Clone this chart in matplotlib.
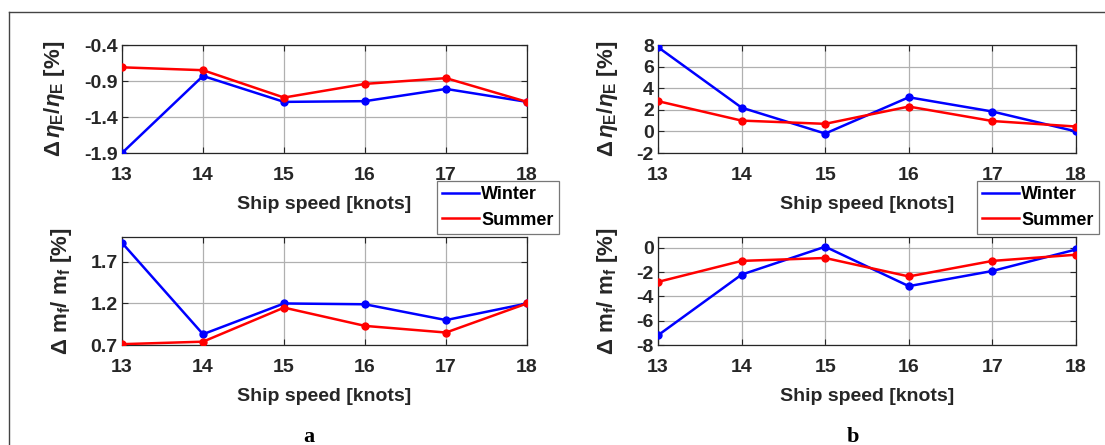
import matplotlib
matplotlib.use("Agg")
import matplotlib.pyplot as plt
from matplotlib.lines import Line2D
import numpy as np

plt.rcParams['font.family'] = 'Liberation Sans'
plt.rcParams['font.weight'] = 'bold'
plt.rcParams['axes.unicode_minus'] = False
plt.rcParams['mathtext.fontset'] = 'custom'
plt.rcParams['mathtext.rm'] = 'Liberation Sans:bold'
plt.rcParams['mathtext.it'] = 'Liberation Sans:italic'
plt.rcParams['mathtext.bf'] = 'Liberation Sans:bold'
plt.rcParams['mathtext.sf'] = 'Liberation Sans'

speed = [13, 14, 15, 16, 17, 18]

# efficiency change, case a
eff_a_winter = [-1.90, -0.83, -1.19, -1.18, -1.01, -1.19]
eff_a_summer = [-0.71, -0.75, -1.13, -0.94, -0.86, -1.19]
# fuel change, case a
fuel_a_winter = [1.93, 0.83, 1.20, 1.19, 1.00, 1.20]
fuel_a_summer = [0.71, 0.74, 1.15, 0.93, 0.85, 1.20]
# efficiency change, case b
eff_b_winter = [7.8, 2.2, -0.2, 3.16, 1.84, 0.0]
eff_b_summer = [2.8, 1.0, 0.7, 2.3, 0.96, 0.45]
# fuel change, case b
fuel_b_winter = [-7.2, -2.2, 0.1, -3.15, -1.9, -0.13]
fuel_b_summer = [-2.8, -1.07, -0.83, -2.35, -1.07, -0.56]

eff_label = r'$\mathsf{\Delta}\,\eta_{\mathbf{E}}/\eta_{\mathbf{E}}$ [%]'
fuel_label = r'$\mathsf{\Delta}$ $\mathbf{m_f}$/ $\mathbf{m_f}$ [%]'

W, H = 1105, 445
fig = plt.figure(figsize=(W / 100, H / 100), dpi=100)

txt = '#262626'
FS = 14


def panel(rect, winter, summer, ylim, yticks, ylabel, legend_box=None):
    l, t, r, b = rect
    ax = fig.add_axes([l / W, 1 - b / H, (r - l) / W, (b - t) / H])
    ax.plot(speed, winter, '-o', color='#0000ff', lw=1.8, ms=5, label='Winter', zorder=3)
    ax.plot(speed, summer, '-o', color='#ff0000', lw=1.8, ms=5, label='Summer', zorder=3)
    ax.set_xlim(13, 18)
    ax.set_ylim(*ylim)
    ax.set_xticks(speed)
    ax.set_yticks(yticks)
    ax.grid(True, color='#b0b0b0', lw=0.9)
    ax.set_axisbelow(True)
    ax.tick_params(direction='in', top=True, right=True, labelsize=FS,
                   colors=txt, length=4, width=0.8)
    ax.tick_params(axis='x', pad=10)
    ax.tick_params(axis='y', pad=3)
    for lab in ax.get_xticklabels() + ax.get_yticklabels():
        lab.set_fontweight('bold')
    for s in ax.spines.values():
        s.set_color(txt)
        s.set_linewidth(0.9)
    ax.set_xlabel('Ship speed [knots]', fontsize=FS, fontweight='bold', color=txt, labelpad=9)
    ax.set_ylabel(ylabel, fontsize=16, fontweight='bold', color=txt, labelpad=12)
    ax.patch.set_visible(False)
    if legend_box is not None:
        lx, ly = legend_box
        handles = [Line2D([], [], color='#0000ff', lw=1.8),
                   Line2D([], [], color='#ff0000', lw=1.8)]
        leg = fig.legend(handles, ['Winter', 'Summer'], loc='upper left',
                         bbox_to_anchor=(lx / W, 1 - ly / H), fontsize=13,
                         frameon=True, fancybox=False, handlelength=2.0,
                         handletextpad=0.15, borderpad=0.3, labelspacing=0.45,
                         borderaxespad=0, handleheight=0.6)
        leg.get_frame().set_edgecolor('#555555')
        leg.get_frame().set_linewidth(0.9)
        for t_ in leg.get_texts():
            t_.set_fontweight('bold')
            t_.set_color('black')
    return ax


panel((122, 45, 527, 153), eff_a_winter, eff_a_summer, (-1.9, -0.4),
      [-1.9, -1.4, -0.9, -0.4], eff_label, legend_box=(437, 181))
panel((122, 237, 527, 345), fuel_a_winter, fuel_a_summer, (0.7, 2.0),
      [0.7, 1.2, 1.7], fuel_label)
panel((658, 45, 1076, 153), eff_b_winter, eff_b_summer, (-2, 8),
      [-2, 0, 2, 4, 6, 8], eff_label, legend_box=(977, 181))
panel((658, 237, 1076, 345), fuel_b_winter, fuel_b_summer, (-8, 0.9),
      [-8, -6, -4, -2, 0], fuel_label)

# panel letters
fig.text(309 / W, 1 - 437 / H, 'a', fontsize=16, fontweight='bold',
         family='Liberation Serif', ha='center', va='center', color='black')
fig.text(853 / W, 1 - 437 / H, 'b', fontsize=16, fontweight='bold',
         family='Liberation Serif', ha='center', va='center', color='black')

# outer frame
fig.add_artist(Line2D([9 / W, 9 / W], [0, 1 - 12 / H], color='#444444', lw=1.0))
fig.add_artist(Line2D([9 / W, 1], [1 - 12 / H, 1 - 12 / H], color='#444444', lw=1.0))

fig.savefig('out.png', dpi=100)
